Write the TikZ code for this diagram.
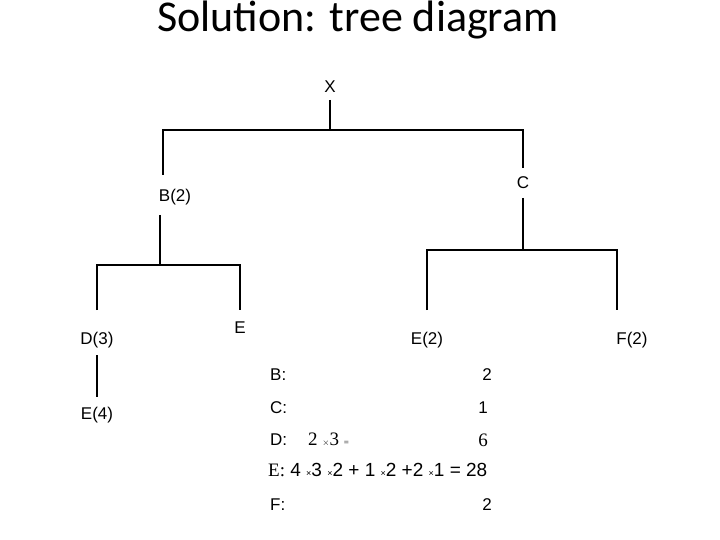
\documentclass[tikz,border=0pt]{standalone}
\usepackage{fontspec}
\setmainfont{Liberation Sans}
\newfontfamily\titlefont{Carlito}
\newfontfamily\serf{Liberation Serif}
\begin{document}
\begin{tikzpicture}[x=1pt,y=-1pt,
  lbl/.style={font=\fontsize{17}{20}\selectfont, inner sep=0pt},
  ln/.style={line width=1.5pt}]
\useasboundingbox (0,0) rectangle (720,540);
\node[font=\titlefont\fontsize{44}{48}\selectfont] (title) at (358,20) {Solution: tree diagram};
\node[lbl] (X) at (330,87) {X};
\node[lbl] (B) at (175,197) {B(2)};
\node[lbl] (C) at (523,183) {C};
\node[lbl] (D) at (97,340) {D(3)};
\node[lbl] (E1) at (240,328) {E};
\node[lbl] (E4) at (97,415) {E(4)};
\node[lbl] (E2) at (427,340) {E(2)};
\node[lbl] (F2) at (632,340) {F(2)};
\coordinate (j1) at (330,130);
\draw[ln] (330,100) -- (j1);
\draw[ln] (163,175) -- (163,130) -- (523,130) -- (523,168);
\draw[ln] (160,215) -- (160,265);
\draw[ln] (97,310) -- (97,265) -- (240,265) -- (240,310);
\draw[ln] (97,355) -- (97,397);
\draw[ln] (523,198) -- (523,250);
\draw[ln] (427,310) -- (427,250) -- (617,250) -- (617,310);
\node[lbl,anchor=west] (rb) at (270,375) {B:};
\node[lbl] (vb) at (487,375) {2};
\node[lbl,anchor=west] (rc) at (270,408) {C:};
\node[lbl] (vc) at (483,408) {1};
\node[lbl,anchor=west] (rd) at (270,440) {D:};
\node[lbl,anchor=west,font=\serf\fontsize{19}{22}\selectfont] (dd) at (308,440) {2 {\small$\times$}3 {\small =}};
\node[lbl,font=\serf\fontsize{19}{22}\selectfont] (vd) at (483,440) {6};
\node[lbl,anchor=west,font=\fontsize{19}{22}\selectfont] (re) at (268,470) {{\serf E:} 4 {\small ×}3 {\small ×}2 + 1 {\small ×}2 +2 {\small ×}1 = 28};
\node[lbl,anchor=west] (rf) at (270,505) {F:};
\node[lbl] (vf) at (487,505) {2};
\end{tikzpicture}
\end{document}
